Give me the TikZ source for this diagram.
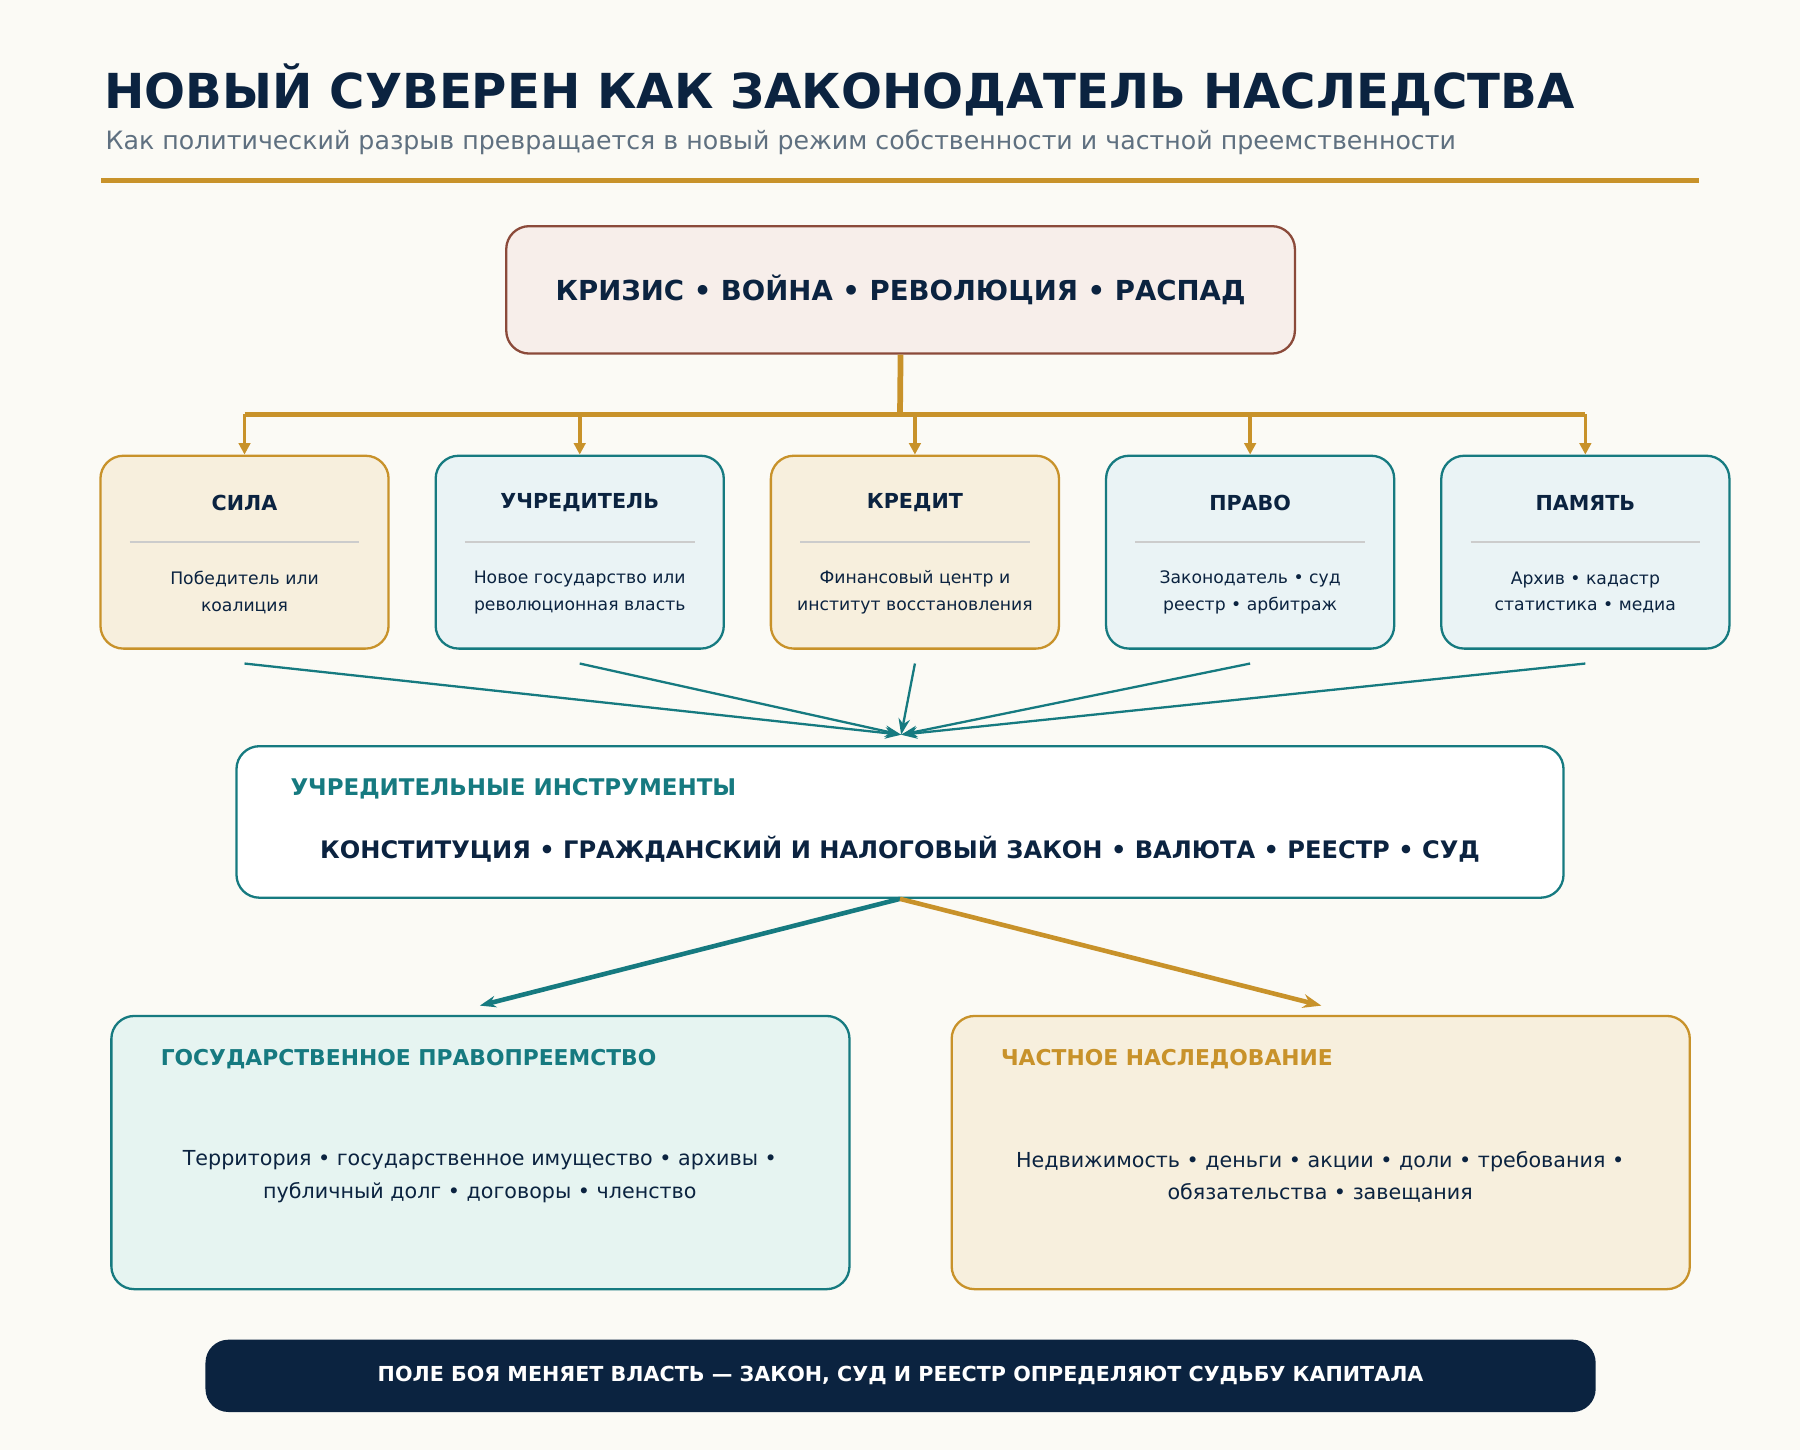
\documentclass[tikz,border=0pt]{standalone}
\usepackage{fontspec}
\setmainfont{DejaVu Sans}
\usetikzlibrary{arrows.meta,positioning}
\definecolor{navy}{HTML}{0B2340}
\definecolor{gold}{HTML}{C8922A}
\definecolor{teal}{HTML}{167A80}
\definecolor{rust}{HTML}{8B4A3A}
\definecolor{paper}{HTML}{FBFAF5}
\definecolor{goldfill}{HTML}{F7EFDD}
\definecolor{tealfill}{HTML}{EAF3F5}
\definecolor{greenfill}{HTML}{E6F4F1}
\definecolor{rustfill}{HTML}{F7EEEA}
\definecolor{subgray}{HTML}{5F7080}
\tikzset{
  box/.style={draw, rounded corners=10pt, line width=1pt, inner sep=0pt},
  goldbox/.style={box, draw=gold, fill=goldfill, minimum width=125.5pt, minimum height=84pt},
  tealbox/.style={box, draw=teal, fill=tealfill, minimum width=125.5pt, minimum height=84pt},
  head/.style={font=\bfseries\fontsize{9}{11}\selectfont, text=navy},
  body/.style={font=\fontsize{7.5}{11.5}\selectfont, text=navy, align=center},
  goldarrow/.style={draw=gold, line width=1.6pt, -{Triangle[length=5pt,width=5pt]}},
  tealarrow/.style={draw=teal, line width=1pt, -{Stealth[length=7pt,width=5pt]}}
}
\begin{document}
\begin{tikzpicture}[x=0.5pt,y=-0.5pt]
  \fill[paper] (0,0) rectangle (1568,1263);
  \useasboundingbox (0,0) rectangle (1568,1263);
  % title
  \node[anchor=west, text=navy, font=\bfseries\fontsize{21}{24}\selectfont] (title) at (84,78) {НОВЫЙ СУВЕРЕН КАК ЗАКОНОДАТЕЛЬ НАСЛЕДСТВА};
  \node[anchor=west, text=subgray, font=\fontsize{11}{13}\selectfont] (sub) at (85,124) {Как политический разрыв превращается в новый режим собственности и частной преемственности};
  \draw[gold, line width=2pt] (88,157) -- (1480,157);
  % crisis
  \node[box, draw=rust, fill=rustfill, minimum width=343.5pt, minimum height=55.5pt, font=\bfseries\fontsize{12}{14}\selectfont, text=navy] (crisis) at (784.5,252.5) {КРИЗИС • ВОЙНА • РЕВОЛЮЦИЯ • РАСПАД};
  \coordinate (fork) at (784,361);
  \draw[gold, line width=2.5pt] (crisis.south) -- (fork);
  \draw[gold, line width=2.5pt] (213,361) -- (1381,361);
  % five actors
  \node[goldbox] (sila) at (213,481) {};
  \node[tealbox] (uchr) at (505,481) {};
  \node[goldbox] (kred) at (797,481) {};
  \node[tealbox] (pravo) at (1089,481) {};
  \node[tealbox] (pamyat) at (1381,481) {};
  \foreach \n/\t/\a/\b in {sila/СИЛА/Победитель или/коалиция,
                           uchr/УЧРЕДИТЕЛЬ/Новое государство или/революционная власть,
                           kred/КРЕДИТ/Финансовый центр и/институт восстановления,
                           pravo/ПРАВО/Законодатель • суд/реестр • арбитраж,
                           pamyat/ПАМЯТЬ/Архив • кадастр/статистика • медиа}{
    \node[head] (\n-t) at ([yshift=-42*0.5pt]\n.north) {\t};
    \draw[gray!40, line width=0.6pt] ([shift={(-100,76)}]\n.north) -- ([shift={(100,76)}]\n.north);
    \node[body] (\n-b) at ([yshift=-120*0.5pt]\n.north) {\a\\\b};
    \coordinate (\n-in) at ([yshift=9*0.5pt]\n.north);
    \coordinate (\n-out) at ([yshift=-12*0.5pt]\n.south);
    \draw[goldarrow] (\n-in |- fork) -- (\n.north);
  }
  % instruments
  \node[box, draw=teal, fill=white, minimum width=578pt, minimum height=66pt] (instr) at (784,716) {};
  \coordinate (hub) at (785,640);
  \foreach \n in {sila,uchr,kred,pravo,pamyat}
    \draw[tealarrow] (\n-out) -- (hub);
  \node[anchor=west, text=teal, font=\bfseries\fontsize{10}{12}\selectfont] (instr-t) at (246,687) {УЧРЕДИТЕЛЬНЫЕ ИНСТРУМЕНТЫ};
  \node[text=navy, font=\bfseries\fontsize{10.5}{12}\selectfont] (instr-b) at (784,740) {КОНСТИТУЦИЯ • ГРАЖДАНСКИЙ И НАЛОГОВЫЙ ЗАКОН • ВАЛЮТА • РЕЕСТР • СУД};
  % outcomes
  \node[box, draw=teal, fill=greenfill, minimum width=321.5pt, minimum height=119pt] (state) at (418.5,1004) {};
  \node[box, draw=gold, fill=goldfill, minimum width=321.5pt, minimum height=119pt] (priv) at (1150.5,1004) {};
  \coordinate (state-in) at (418,876);
  \coordinate (priv-in) at (1151,876);
  \draw[tealarrow, line width=2pt] (instr.south) -- (state-in);
  \draw[draw=gold, line width=2pt, -{Stealth[length=8pt,width=6pt]}] (instr.south) -- (priv-in);
  \node[anchor=west, text=teal, font=\bfseries\fontsize{9.5}{11}\selectfont] (state-t) at (133,923) {ГОСУДАРСТВЕННОЕ ПРАВОПРЕЕМСТВО};
  \node[anchor=west, text=gold, font=\bfseries\fontsize{9.5}{11}\selectfont] (priv-t) at (865,923) {ЧАСТНОЕ НАСЛЕДОВАНИЕ};
  \node[text=navy, align=center, font=\fontsize{9}{14}\selectfont] (state-b) at (418,1025) {Территория • государственное имущество • архивы •\\публичный долг • договоры • членство};
  \node[text=navy, align=center, font=\fontsize{9}{14}\selectfont] (priv-b) at (1150,1025) {Недвижимость • деньги • акции • доли • требования •\\обязательства • завещания};
  % banner
  \node[fill=navy, rounded corners=10pt, minimum width=605.5pt, minimum height=31.5pt, text=white, font=\bfseries\fontsize{9}{11}\selectfont] (banner) at (784.5,1198.5) {ПОЛЕ БОЯ МЕНЯЕТ ВЛАСТЬ — ЗАКОН, СУД И РЕЕСТР ОПРЕДЕЛЯЮТ СУДЬБУ КАПИТАЛА};
\end{tikzpicture}
\end{document}
